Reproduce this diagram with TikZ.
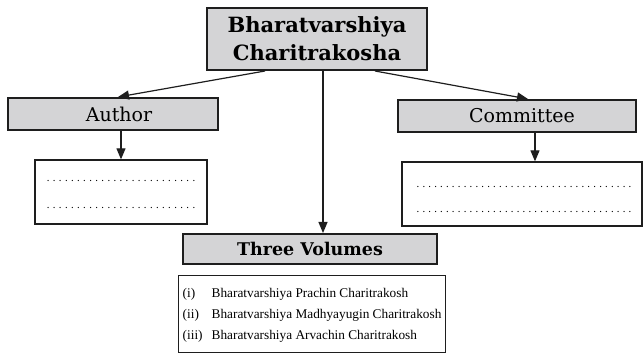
\documentclass[tikz,border=0pt]{standalone}
\usepackage{fontspec}
\setmainfont{DejaVu Serif}
\newfontfamily\listfont{Liberation Serif}
\usetikzlibrary{arrows.meta,calc}
\definecolor{boxgray}{RGB}{212,212,214}
\definecolor{ink}{RGB}{30,30,30}
\tikzset{
  graybox/.style={draw=ink, line width=2pt, fill=boxgray, inner sep=0pt, align=center},
  whitebox/.style={draw=ink, line width=1.3pt, fill=white, inner sep=0pt},
  dots/.style={anchor=base, inner sep=0pt, font=\fontsize{10}{10}\selectfont},
  arr/.style={draw=ink, line width=1.2pt, -{Triangle[length=11pt,width=9pt]}},
}
\newcommand{\dotline}[1]{\hbox to #1{\xleaders\hbox to 5.85pt{\hss.\hss}\hfill}}
\begin{document}
\begin{tikzpicture}[x=1pt,y=-1pt]
\useasboundingbox (0,0) rectangle (643,358);
\node[graybox, minimum width=220pt, minimum height=62pt, font=\fontsize{21}{21}\selectfont\bfseries] (top) at (317,39)
  {Bharatvarshiya\\[7pt]Charitrakosha};
\node[graybox, minimum width=210pt, minimum height=32pt, font=\fontsize{19}{19}\selectfont] (author) at (113,114) {\hspace*{12pt}Author};
\node[graybox, minimum width=238pt, minimum height=32pt, font=\fontsize{19}{19}\selectfont] (comm) at (517,116) {\hspace*{10pt}Committee};
\node[whitebox, minimum width=172pt, minimum height=64pt] (adot) at (121,192) {};
\node[dots] (adot1) at (121,182) {\dotline{152pt}};
\node[dots] (adot2) at (121,209) {\dotline{152pt}};
\node[whitebox, minimum width=240pt, minimum height=64pt] (cdot) at (522,194) {};
\node[dots] (cdot1) at (524,188) {\dotline{218pt}};
\node[dots] (cdot2) at (524,213) {\dotline{218pt}};
\node[graybox, minimum width=254pt, minimum height=30pt, font=\fontsize{17.5}{18}\selectfont\bfseries] (three) at (310,249) {Three Volumes};
\node[whitebox, line width=1pt, minimum width=267pt, minimum height=76pt] (list) at (311.5,314) {};
\node[anchor=west, inner sep=0pt, font=\listfont\fontsize{13.3}{22}\selectfont] (items) at ([xshift=5pt]list.west)
  {\begin{tabular}{@{}p{29pt}@{}l@{}}
   (i) & Bharatvarshiya Prachin Charitrakosh\\[-0.8pt]
   (ii) & Bharatvarshiya Madhyayugin Charitrakosh\\[-0.8pt]
   (iii) & Bharatvarshiya Arvachin Charitrakosh
   \end{tabular}};
\draw[arr] ([xshift=-52pt]top.south) -- ([xshift=5pt]author.north);
\draw[arr] ([xshift=58pt]top.south) -- ([xshift=11pt]comm.north);
\draw[arr] ([xshift=6pt]top.south) -- ([xshift=6pt]top.south |- three.north);
\draw[arr] (adot.north |- author.south) -- (adot.north);
\draw[arr] ([xshift=13pt]cdot.north |- comm.south) -- ([xshift=13pt]cdot.north);
\end{tikzpicture}
\end{document}
